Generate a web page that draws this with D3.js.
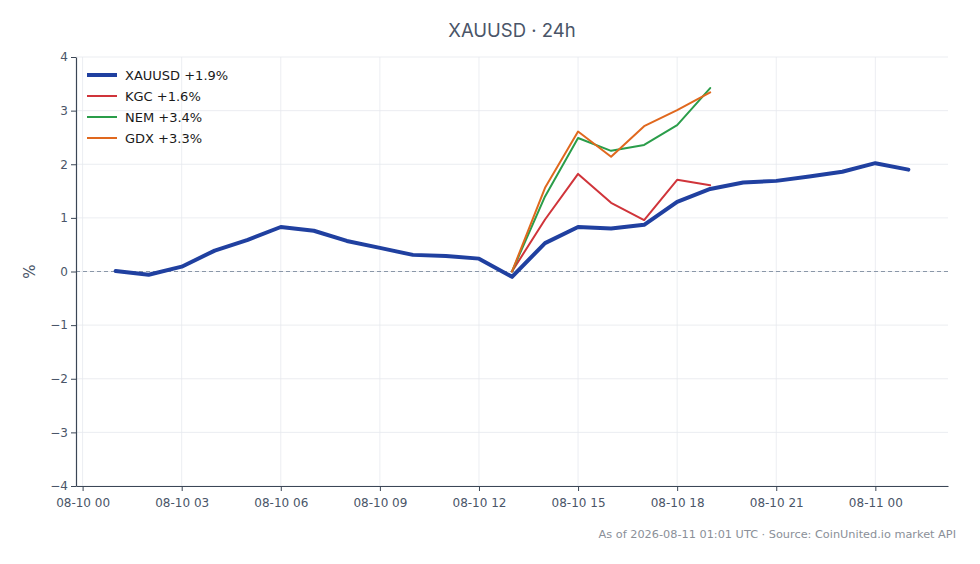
<!DOCTYPE html>
<html>
<head>
<meta charset="utf-8">
<script src="https://cdn.jsdelivr.net/npm/d3@7"></script>
<style>
body { margin: 0; background: #fff; }
text { font-family: "DejaVu Sans", sans-serif; }
</style>
</head>
<body>
<div id="chart"></div>
<script>
// hours since 08-10 00:00 UTC
const hours = [1, 2, 3, 4, 5, 6, 7, 8, 9, 10, 11, 12, 13, 14, 15, 16, 17, 18, 19, 20, 21, 22, 23, 24, 25];
const xauusd = [0.01, -0.06, 0.09, 0.39, 0.59, 0.83, 0.76, 0.57, 0.44, 0.31, 0.29, 0.24, -0.1, 0.53, 0.83, 0.80, 0.87, 1.30, 1.54, 1.66, 1.69, 1.77, 1.86, 2.02, 1.90];
const stockHours = [13, 14, 15, 16, 17, 18, 19];
const kgc = [0, 0.97, 1.82, 1.28, 0.96, 1.71, 1.61];
const nem = [0, 1.40, 2.49, 2.25, 2.36, 2.73, 3.42];
const gdx = [0, 1.56, 2.61, 2.14, 2.71, 3.01, 3.34];
const xTicks = [0, 3, 6, 9, 12, 15, 18, 21, 24];
const xTickLabels = ["08-10 00", "08-10 03", "08-10 06", "08-10 09", "08-10 12", "08-10 15", "08-10 18", "08-10 21", "08-11 00"];
const yTicks = [-4, -3, -2, -1, 0, 1, 2, 3, 4];

const series = [
	{ name: "XAUUSD +1.9%", x: hours, y: xauusd, color: "#2040a0", width: 4 },
	{ name: "KGC +1.6%", x: stockHours, y: kgc, color: "#d0343a", width: 2 },
	{ name: "NEM +3.4%", x: stockHours, y: nem, color: "#2a9d4a", width: 2 },
	{ name: "GDX +3.3%", x: stockHours, y: gdx, color: "#e0681e", width: 2 }
];

const width = 980;
const height = 564;
const margin = { left: 76, right: 32, top: 57, bottom: 78 };

const svg = d3.select("#chart")
	.append("svg")
	.attr("width", width)
	.attr("height", height);

const x = d3.scaleLinear()
	.domain([-0.2, 26.2])
	.range([margin.left, width - margin.right]);

const y = d3.scaleLinear()
	.domain([-4, 4])
	.range([height - margin.bottom, margin.top]);

// grid
const grid = svg.append("g");
grid.selectAll(".gx")
	.data(xTicks)
	.enter()
	.append("line")
	.attr("x1", d => x(d)).attr("x2", d => x(d))
	.attr("y1", margin.top).attr("y2", height - margin.bottom)
	.style("stroke", "#e6e9ee")
	.style("stroke-width", 0.8);
grid.selectAll(".gy")
	.data(yTicks)
	.enter()
	.append("line")
	.attr("x1", margin.left).attr("x2", width - margin.right)
	.attr("y1", d => y(d)).attr("y2", d => y(d))
	.style("stroke", "#e6e9ee")
	.style("stroke-width", 0.8);

// zero line
svg.append("line")
	.attr("x1", margin.left).attr("x2", width - margin.right)
	.attr("y1", y(0)).attr("y2", y(0))
	.style("stroke", "#8a97a8")
	.style("stroke-width", 1)
	.style("stroke-dasharray", "4,3");

// axes
const axisColor = "#3b4656";
const xAxis = svg.append("g")
	.attr("transform", "translate(0," + (height - margin.bottom) + ")")
	.call(d3.axisBottom(x).tickValues(xTicks).tickFormat((d, i) => xTickLabels[i]).tickSize(5).tickSizeOuter(0));
const yAxis = svg.append("g")
	.attr("transform", "translate(" + margin.left + ",0)")
	.call(d3.axisLeft(y).tickValues(yTicks).tickFormat(d => d < 0 ? "\u2212" + Math.abs(d) : d).tickSize(5).tickSizeOuter(0));

[xAxis, yAxis].forEach(function (a) {
	a.select(".domain").style("stroke", axisColor).style("stroke-width", 1.2);
	a.selectAll(".tick line").style("stroke", axisColor);
	a.selectAll(".tick text")
		.style("fill", "#4a5568")
		.style("font-size", "12px")
		.style("font-family", "DejaVu Sans");
});
xAxis.selectAll(".tick text").attr("dy", "1.1em");

// lines
const line = d3.line()
	.x(d => x(d[0]))
	.y(d => y(d[1]));

series.forEach(function (s) {
	svg.append("path")
		.datum(s.x.map((h, i) => [h, s.y[i]]))
		.attr("d", line)
		.style("fill", "none")
		.style("stroke", s.color)
		.style("stroke-width", s.width)
		.style("stroke-linejoin", "round")
		.style("stroke-linecap", "round");
});

// legend
const legend = svg.append("g")
	.attr("transform", "translate(87,75)");
series.forEach(function (s, i) {
	const g = legend.append("g")
		.attr("transform", "translate(0," + (i * 21) + ")");
	g.append("line")
		.attr("x1", 0).attr("x2", 30)
		.attr("y1", 0).attr("y2", 0)
		.style("stroke", s.color)
		.style("stroke-width", s.width);
	g.append("text")
		.attr("x", 38)
		.attr("y", 4.5)
		.style("font-size", "13px")
		.style("fill", "#1a1a1a")
		.text(s.name);
});

// title
svg.append("text")
	.attr("x", 512)
	.attr("y", 37)
	.attr("text-anchor", "middle")
	.style("font-family", "Inter, sans-serif")
	.style("font-size", "18.5px")
	.style("fill", "#4a5568")
	.text("XAUUSD \u00b7 24h");

// y label
svg.append("text")
	.attr("transform", "translate(35," + y(0) + ") rotate(-90)")
	.attr("text-anchor", "middle")
	.style("font-size", "15px")
	.style("fill", "#4a5568")
	.text("%");

// footer
svg.append("text")
	.attr("x", 956)
	.attr("y", 538)
	.attr("text-anchor", "end")
	.style("font-size", "11.3px")
	.style("fill", "#8a8f98")
	.text("As of 2026-08-11 01:01 UTC \u00b7 Source: CoinUnited.io market API");
</script>
</body>
</html>
